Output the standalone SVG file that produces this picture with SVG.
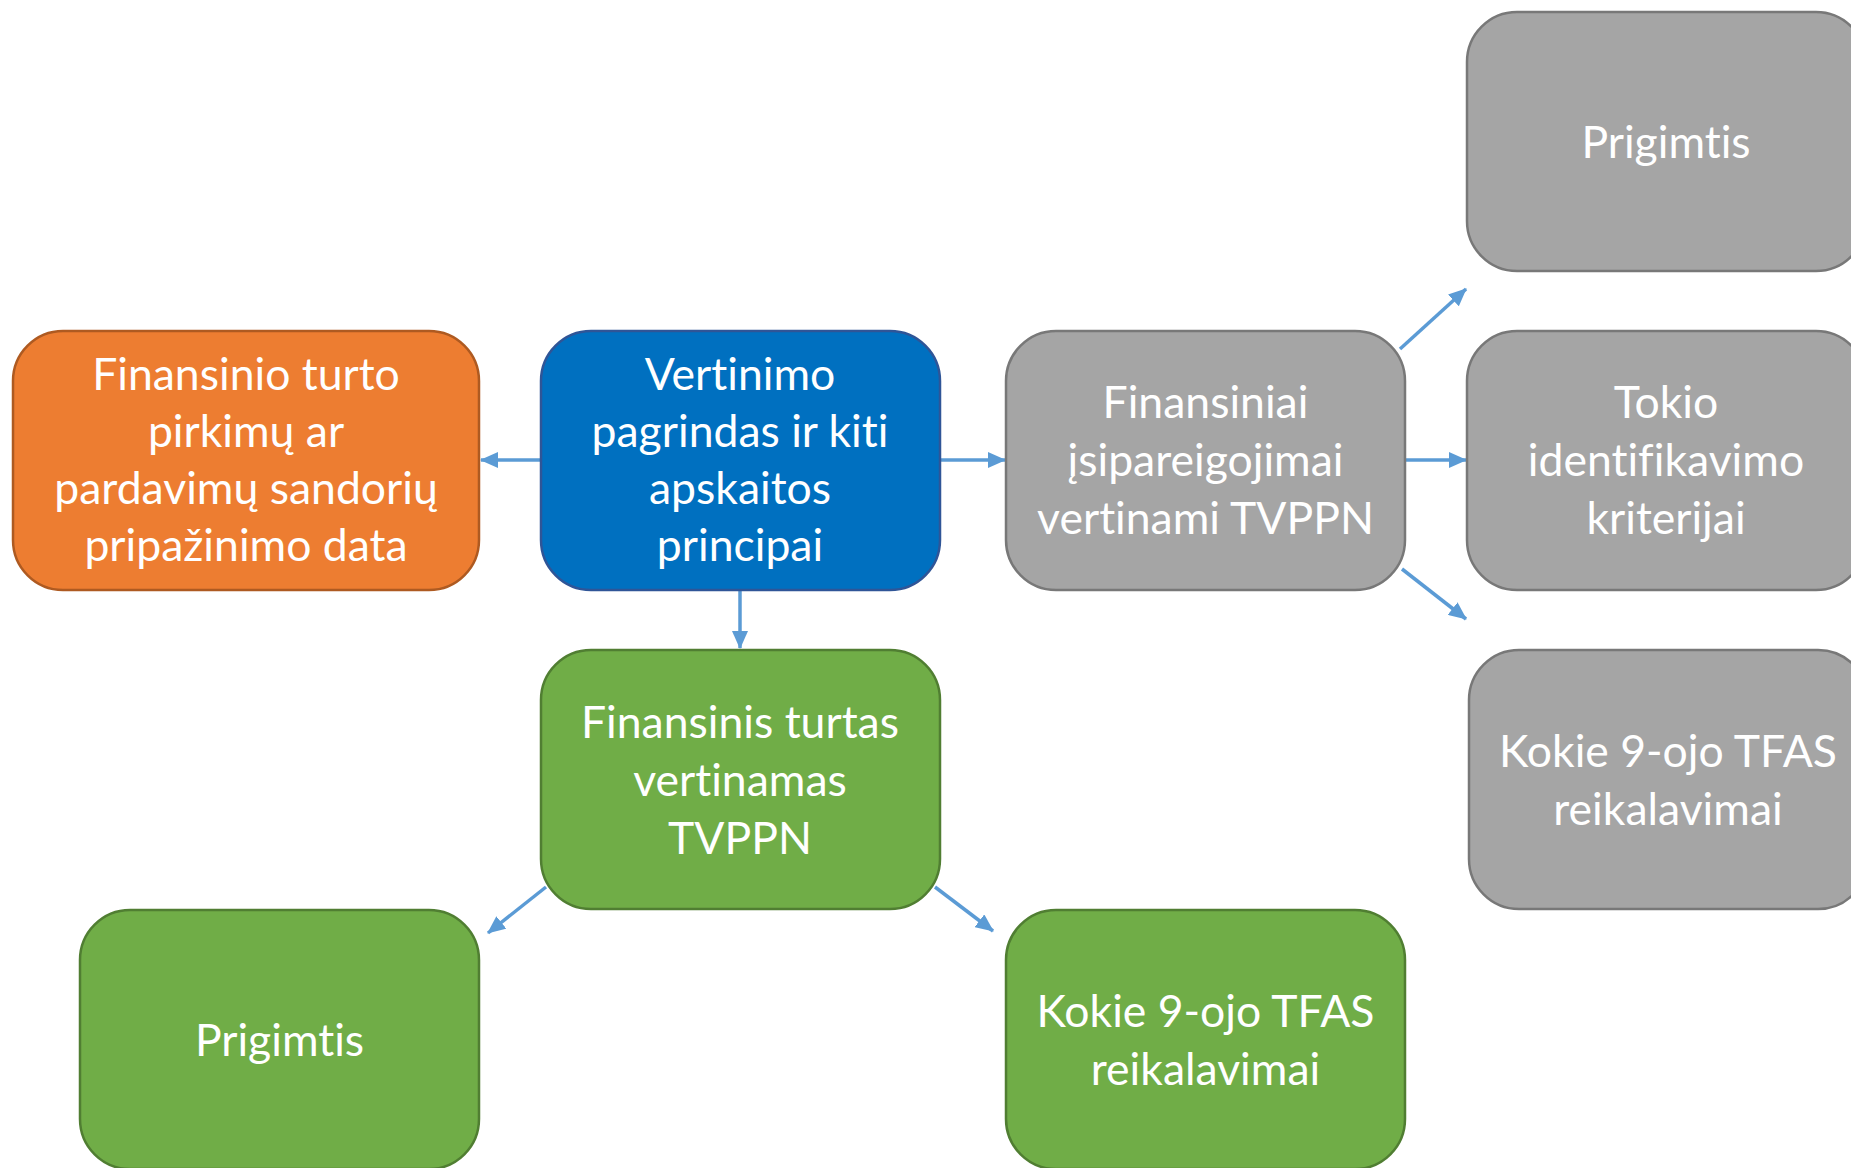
<svg xmlns="http://www.w3.org/2000/svg" width="1851" height="1168" viewBox="0 0 1851 1168">
<style>
.box{stroke-width:2.5}
.orange{fill:#ED7D31;stroke:#AE5A21}
.blue{fill:#0070C0;stroke:#2F5597}
.gray{fill:#A5A5A5;stroke:#787878}
.green{fill:#70AD47;stroke:#507E32}
.t{font-family:Lato,"Open Sans","Noto Sans",sans-serif;font-size:44.5px;fill:#FFFFFF;text-anchor:middle;font-variant-ligatures:no-common-ligatures}
.c{stroke:#5B9BD5;stroke-width:3.5;fill:none;marker-end:url(#ah)}
</style>
<defs>
<marker id="ah" markerUnits="userSpaceOnUse" markerWidth="18" markerHeight="16" refX="17" refY="8" orient="auto">
<path d="M0,0 L18,8 L0,16 Z" fill="#5B9BD5"/>
</marker>
</defs>
<rect width="1851" height="1168" fill="#FFFFFF"/>
<g id="connectors">
<line class="c" x1="541" y1="460" x2="481" y2="460"/>
<line class="c" x1="940" y1="460" x2="1005" y2="460"/>
<line class="c" x1="740" y1="591" x2="740" y2="648"/>
<line class="c" x1="1400" y1="349" x2="1466" y2="289"/>
<line class="c" x1="1405" y1="460" x2="1466" y2="460"/>
<line class="c" x1="1402" y1="569" x2="1466" y2="619"/>
<line class="c" x1="546" y1="887" x2="488" y2="933"/>
<line class="c" x1="935" y1="887" x2="993" y2="931"/>
</g>
<g id="node-orange">
<rect class="box orange" x="13" y="331" width="466" height="259" rx="50"/>
<text class="t" x="246" y="390">Finansinio turto</text>
<text class="t" x="246" y="447">pirkimų ar</text>
<text class="t" x="246" y="504">pardavimų sandorių</text>
<text class="t" x="246" y="561">pripažinimo data</text>
</g>
<g id="node-blue">
<rect class="box blue" x="541" y="331" width="399" height="259" rx="50"/>
<text class="t" x="740" y="390">Vertinimo</text>
<text class="t" x="740" y="447">pagrindas ir kiti</text>
<text class="t" x="740" y="504">apskaitos</text>
<text class="t" x="740" y="561">principai</text>
</g>
<g id="node-gray-mid">
<rect class="box gray" x="1006" y="331" width="399" height="259" rx="50"/>
<text class="t" x="1205.5" y="418">Finansiniai</text>
<text class="t" x="1205.5" y="476">įsipareigojimai</text>
<text class="t" x="1205.5" y="534">vertinami TVPPN</text>
</g>
<g id="node-gray-top">
<rect class="box gray" x="1467" y="12" width="399" height="259" rx="50"/>
<text class="t" x="1666" y="158">Prigimtis</text>
</g>
<g id="node-gray-right">
<rect class="box gray" x="1467" y="331" width="399" height="259" rx="50"/>
<text class="t" x="1666" y="418">Tokio</text>
<text class="t" x="1666" y="476">identifikavimo</text>
<text class="t" x="1666" y="534">kriterijai</text>
</g>
<g id="node-gray-bottom">
<rect class="box gray" x="1469" y="650" width="399" height="259" rx="50"/>
<text class="t" x="1668" y="767">Kokie 9-ojo TFAS</text>
<text class="t" x="1668" y="825">reikalavimai</text>
</g>
<g id="node-green-mid">
<rect class="box green" x="541" y="650" width="399" height="259" rx="50"/>
<text class="t" x="740" y="738">Finansinis turtas</text>
<text class="t" x="740" y="796">vertinamas</text>
<text class="t" x="740" y="854">TVPPN</text>
</g>
<g id="node-green-left">
<rect class="box green" x="80" y="910" width="399" height="259" rx="50"/>
<text class="t" x="279.5" y="1056">Prigimtis</text>
</g>
<g id="node-green-right">
<rect class="box green" x="1006" y="910" width="399" height="259" rx="50"/>
<text class="t" x="1205.5" y="1027">Kokie 9-ojo TFAS</text>
<text class="t" x="1205.5" y="1085">reikalavimai</text>
</g>
</svg>
